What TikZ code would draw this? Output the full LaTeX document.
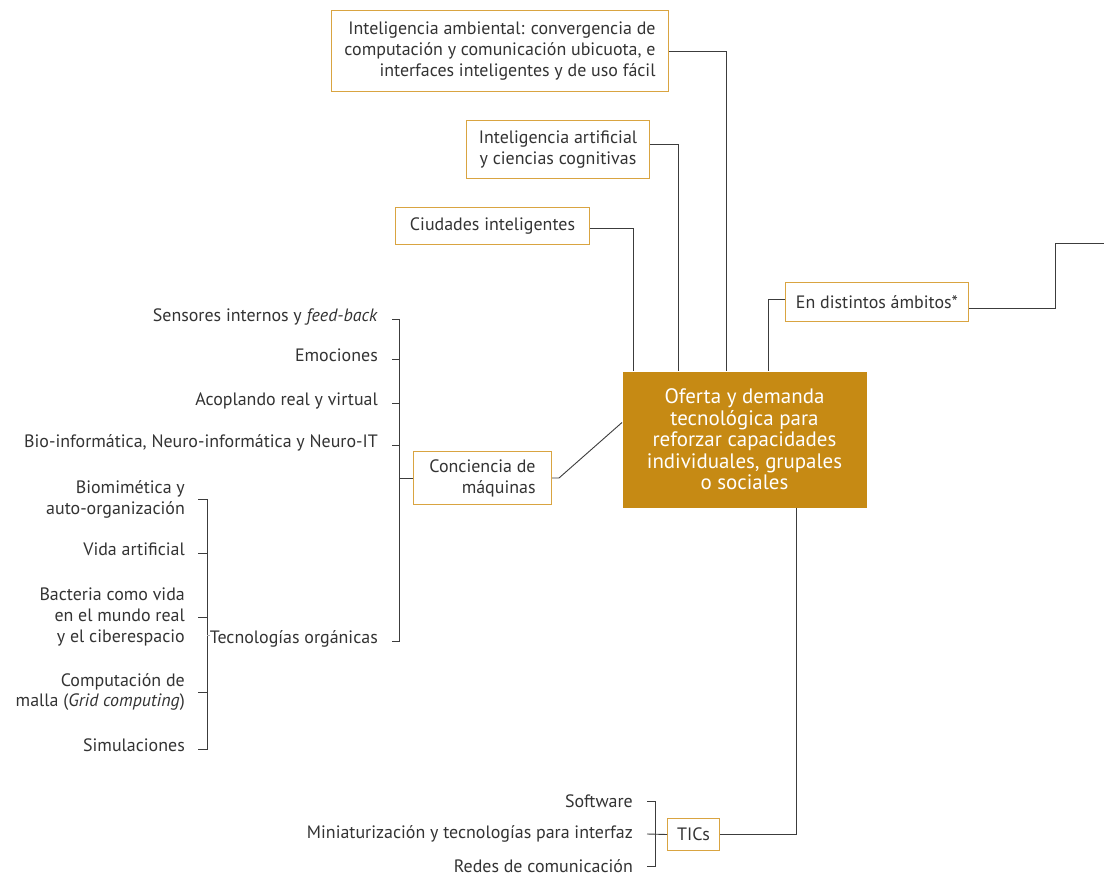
\documentclass[tikz,border=0pt]{standalone}
\usepackage{fontspec}
\setmainfont{PT Sans}
\usetikzlibrary{calc}
\definecolor{boxline}{HTML}{D9A441}
\definecolor{boxfill}{HTML}{C68A14}
\definecolor{ink}{HTML}{333333}
\definecolor{wirec}{HTML}{3C3C3C}
\definecolor{wirefaint}{HTML}{B0B0B0}

\begin{document}
\begin{tikzpicture}[x=1bp,y=-1bp,
  every node/.style={font=\fontsize{18}{21}\selectfont, text=ink},
  box/.style={draw=boxline, line width=1bp, fill=white, inner sep=0pt, anchor=north west},
  item/.style={inner sep=0pt, align=right},
  wire/.style={draw=wirec, line width=0.9bp},
  faint/.style={draw=wirefaint, line width=0.8bp}]

\useasboundingbox[fill=white] (0,0) rectangle (1104,877);

% central node
\node[box, draw=none, fill=boxfill, text=white, minimum width=244bp, minimum height=136bp, align=center,
  font=\fontsize{21}{21.5}\selectfont]
  (cen) at (622,371) {Oferta y demanda\\tecnológica para\\reforzar capacidades\\individuales, grupales\\o sociales};

% boxes above the centre
\node[box, minimum width=337bp, minimum height=81bp, align=right] (amb) at (331,10)
  {Inteligencia ambiental: convergencia de\\computación y comunicación ubicuota, e\\interfaces inteligentes y de uso fácil};
\node[box, minimum width=183bp, minimum height=58bp, align=center] (ia) at (466,120)
  {Inteligencia artificial\\y ciencias cognitivas};
\node[box, minimum width=194bp, minimum height=37bp] (ciu) at (395,207) {Ciudades inteligentes};
\node[box, minimum width=183bp, minimum height=39bp] (ens) at (785,282) {En distintos ámbitos*};
\coordinate (rt) at (1104,243);

% branch on the left
\node[box, minimum width=138bp, minimum height=53bp, align=right] (conc) at (413,451)
  {Conciencia de\\máquinas};
\node[box, minimum width=52bp, minimum height=32bp] (tics) at (667,818) {TICs};

% list of machine awareness
\node[item, anchor=mid east] (s1) at (378,319) {Sensores internos y \textit{feed-back}};
\node[item, anchor=mid east] (s2) at (378,359) {Emociones};
\node[item, anchor=mid east] (s3) at (378,403) {Acoplando real y virtual};
\node[item, anchor=mid east] (s4) at (378,445) {Bio-informática, Neuro-informática y Neuro-IT};
\node[item, anchor=mid east] (torg) at (378,641) {Tecnologías orgánicas};

% organic technologies
\node[item, anchor=east] (b1) at (185,499) {Biomimética y\\auto-organización};
\node[item, anchor=mid east] (b2) at (185,553) {Vida artificial};
\node[item, anchor=east] (b3) at (185,617) {Bacteria como vida\\en el mundo real\\y el ciberespacio};
\node[item, anchor=east] (b4) at (185,692) {Computación de\\malla (\textit{Grid computing})};
\node[item, anchor=mid east] (b5) at (185,749) {Simulaciones};
\coordinate (ob) at ([xshift=22bp]b1.east);

% ICT list
\node[item, anchor=east] (sw) at (633,801) {Software};
\node[item, anchor=east] (mi) at (633,834) {Miniaturización y tecnologías para interfaz};
\node[item, anchor=east] (rd) at (633,866) {Redes de comunicación};

% connectors to the centre
\draw[wire] (amb.east) -| ([xshift=-18bp]cen.north);
\draw[wire] ([yshift=5bp]ia.east) -| ([xshift=-66bp]cen.north);
\draw[wire] ([yshift=-2.5bp]ciu.east) -| ([xshift=-111bp]cen.north);
\draw[wire] ([yshift=2.5bp]ens.west) -| ([xshift=24bp]cen.north);
\draw[wire] ([yshift=-6.5bp]ens.east) -- ++(86,0) |- (rt);
\draw[wire] (conc.east) -- ++(7,0) -- ([yshift=17bp]cen.west);
\draw[wire] ([xshift=52bp]cen.south) |- (tics.east);

% bracket: machine awareness
\draw[wire] ([xshift=14bp]s1.mid east) -- ++(7,0) |- ([xshift=14bp]torg.mid east);
\foreach \n in {s2,s3,s4} \draw[wire] ([xshift=14bp]\n.mid east) -- ++(7,0);
\draw[wire] (conc.west) -- ++(-14,0);

% bracket: organic technologies
\draw[wire] (ob) -- ([xshift=13bp]b1.east);
\draw[wire] (ob) |- ([xshift=13bp]b5.mid east);
\draw[wire] ([xshift=13bp]b2.mid east) -- ++(9,0);
\draw[wire] ([xshift=13bp]b3.east) -- ++(9,0);
\draw[wire] ([xshift=13bp]b4.east) -- ++(9,0);
\draw[faint] ([yshift=4bp]torg.west) -- ([yshift=4bp]torg.west -| ob);

% bracket: ICT
\draw[wire] ([xshift=14bp]sw.east) -- ++(8,0) |- ([xshift=14bp]rd.east);
\draw[wire] ([xshift=14bp]mi.east) -- (tics.west);
\end{tikzpicture}
\end{document}
